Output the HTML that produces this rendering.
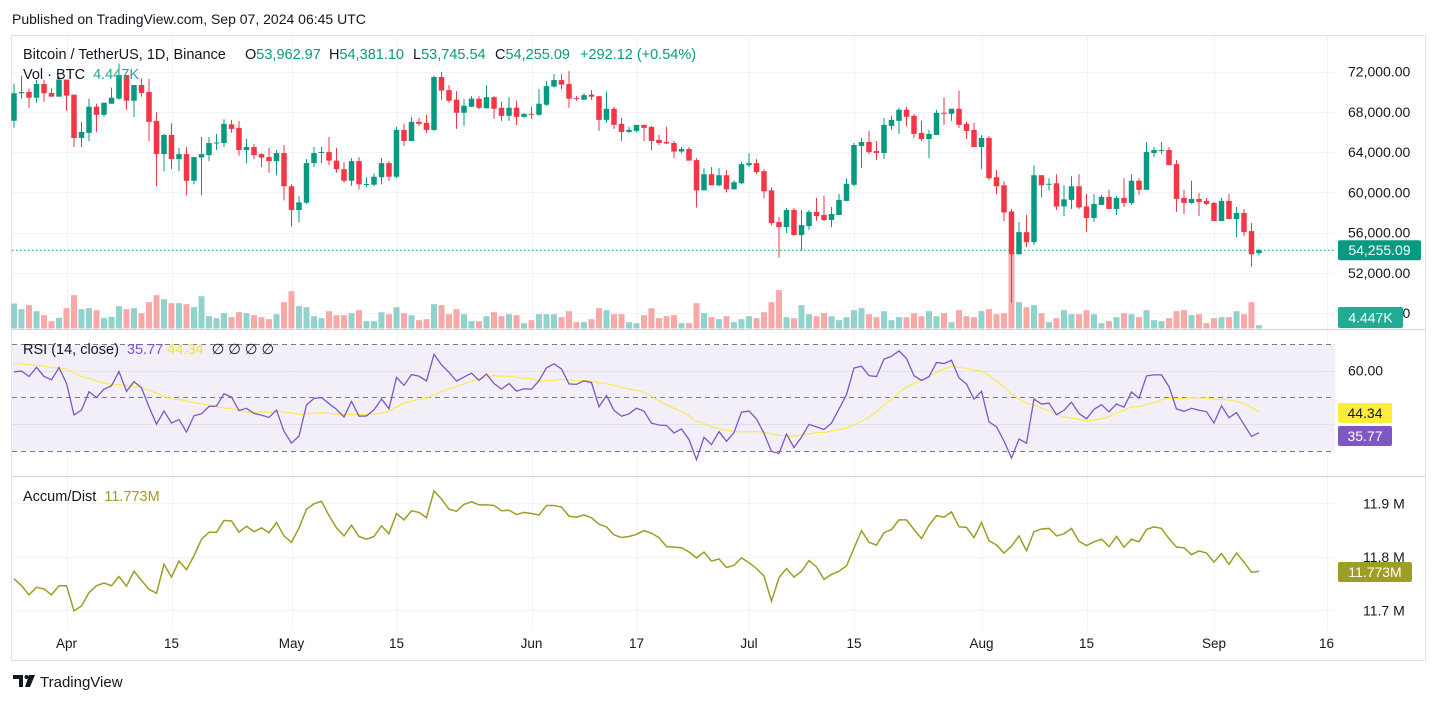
<!DOCTYPE html>
<html><head><meta charset="utf-8"><style>
html,body{margin:0;padding:0;background:#fff;width:1438px;height:703px;overflow:hidden;font-family:"Liberation Sans",sans-serif}
svg{display:block}
text{font-family:"Liberation Sans",sans-serif}
</style></head><body>
<svg id="chart" width="1438" height="703" viewBox="0 0 1438 703" xmlns="http://www.w3.org/2000/svg">
<text x="12" y="24" font-size="14" fill="#131722">Published on TradingView.com, Sep 07, 2024 06:45 UTC</text>
<rect x="11.5" y="35.5" width="1414" height="625" fill="none" stroke="#e0e3eb"/>
<rect x="12" y="344" width="1323" height="107" fill="#f2eff9"/>
<g id="grid"></g>
<g id="vol"></g>
<g id="candles"></g>
<g id="rsi"></g>
<g id="ad"></g>
<g id="axes"></g>
<text y="59" font-size="14.5" fill="#131722"><tspan x="23">Bitcoin / TetherUS, 1D, Binance</tspan><tspan x="245">O</tspan><tspan fill="#089981">53,962.97</tspan><tspan x="329">H</tspan><tspan fill="#089981">54,381.10</tspan><tspan x="413">L</tspan><tspan fill="#089981">53,745.54</tspan><tspan x="495">C</tspan><tspan fill="#089981">54,255.09</tspan><tspan x="580" fill="#089981">+292.12 (+0.54%)</tspan></text>
<text x="23" y="79" font-size="14.5" fill="#131722">Vol · BTC <tspan fill="#26a69a" dx="4">4.447K</tspan></text>
<text x="23" y="354" font-size="14.5" fill="#131722">RSI (14, close) <tspan fill="#7e57c2" dx="4">35.77</tspan> <tspan fill="#f5e13b">44.34</tspan> <tspan dx="4">∅  ∅  ∅  ∅</tspan></text>
<text x="23" y="501" font-size="14.5" fill="#131722">Accum/Dist <tspan fill="#9e9d24" dx="4">11.773M</tspan></text>
<g>
<path d="M13 675h10v12h-4v-8h-6z" fill="#131722"/>
<circle cx="26.5" cy="677" r="2" fill="#131722"/>
<path d="M29 675h6l-5 12h-5z" fill="#131722"/>
<text x="40" y="687" font-size="15" fill="#131722">TradingView</text>
</g>
</svg>
<script>
const opens=[67.11,69.84,69.96,69.4,70.76,69.87,69.5,71.2,69.7,65.4,
65.9,68.5,67.7,68.8,69.3,71.65,69.1,70.66,69.96,67.1,
63.8,65.7,63.3,63.8,61.15,63.45,63.7,64.85,64.9,66.75,
66.4,64.2,64.5,63.8,63.5,63.1,63.9,60.6,58.25,58.97,
62.9,63.9,64.0,63.15,62.3,61.15,63.1,60.76,60.76,61.5,
62.9,61.55,66.2,65.1,67.0,66.9,66.2,71.45,70.15,69.2,
67.9,68.5,69.3,68.35,69.45,68.4,67.6,68.4,67.5,67.8,
67.7,68.7,70.5,71.15,70.75,69.35,69.2,69.7,69.55,67.2,
68.3,66.8,66.0,66.1,66.7,66.5,65.2,65.0,64.9,64.05,
64.3,63.2,60.2,61.8,60.7,61.7,60.3,60.9,62.7,62.9,
62.1,60.2,57.05,56.55,58.25,55.75,56.65,58.05,57.75,57.25,
57.75,59.15,60.75,64.6,65.0,64.1,63.9,66.6,67.1,68.2,
67.6,65.9,65.3,65.7,67.9,67.8,68.3,66.8,66.2,64.5,
65.4,61.5,60.7,58.1,53.85,56.05,55.05,61.7,60.8,60.9,
58.6,59.25,60.6,58.6,57.45,58.75,59.55,58.35,59.45,58.95,
61.15,60.25,63.9,64.1,64.2,62.8,59.45,58.95,59.35,59.15,
58.95,57.15,59.15,57.35,57.95,56.15,53.963];
const highs=[70.8,71.55,70.33,71.16,71.16,70.33,71.5,71.2,69.7,67.0,
69.3,68.8,68.9,70.4,72.8,71.65,70.66,71.3,71.25,67.95,
65.8,66.85,64.4,64.5,63.5,65.5,65.5,65.8,67.25,67.2,
67.1,65.3,64.8,63.9,64.4,64.2,64.7,60.8,59.6,63.3,
64.5,64.5,65.5,64.4,63.0,63.4,63.5,61.5,61.9,63.4,
63.1,66.5,66.8,67.5,67.4,67.7,71.6,71.95,70.65,70.05,
69.25,69.55,69.55,70.65,69.55,69.0,69.45,69.1,67.85,68.5,
70.25,71.05,71.75,71.75,72.05,69.55,69.85,70.15,69.55,70.0,
68.5,67.4,66.5,66.7,66.7,66.6,65.7,66.5,65.1,64.5,
64.5,63.4,62.4,62.5,62.4,62.2,61.2,63.0,63.9,63.3,
62.3,60.5,57.55,58.45,58.45,58.25,58.25,59.45,59.65,58.55,
59.85,61.4,64.9,65.4,66.1,65.1,67.4,67.6,68.4,68.5,
67.8,67.1,66.2,68.2,69.4,68.3,70.1,67.0,66.9,65.7,
65.6,62.2,61.1,58.35,57.05,57.75,62.7,61.7,61.4,61.8,
60.7,61.6,61.8,59.85,59.85,59.75,60.25,59.65,61.4,61.8,
61.4,65.0,64.5,65.0,64.5,63.2,60.25,61.15,59.95,59.45,
59.05,59.45,59.85,58.55,58.35,56.95,54.381];
const lows=[66.42,69.3,68.4,68.9,69.0,69.5,69.5,68.1,64.5,64.5,
65.1,66.0,67.5,68.8,69.2,68.2,67.5,69.5,65.1,60.6,
62.1,62.3,62.1,59.7,60.8,59.7,63.1,64.2,64.5,65.9,
63.65,62.9,63.3,62.5,61.95,61.7,59.2,56.6,57.0,58.85,
62.5,62.9,62.7,61.95,60.95,60.65,60.3,60.55,60.6,60.8,
61.15,61.4,64.6,65.1,66.6,65.9,66.1,69.2,68.9,66.3,
66.6,68.5,68.25,68.35,67.3,67.1,67.1,66.7,67.4,67.3,
67.6,68.6,70.4,70.25,68.4,69.1,69.2,69.2,66.1,66.9,
66.3,65.1,65.9,65.95,65.1,64.15,64.7,64.8,63.4,63.9,
63.15,58.5,60.2,60.7,60.6,60.0,60.3,60.8,62.5,61.8,
59.4,56.75,53.5,55.95,55.75,54.2,56.25,57.15,57.15,56.55,
57.75,59.15,60.6,62.4,63.8,63.2,63.3,66.2,65.8,66.6,
65.4,65.1,63.4,65.7,66.7,67.1,66.4,65.3,64.5,62.3,
61.2,59.8,57.15,49.05,53.85,54.55,54.8,59.5,60.2,58.25,
57.65,58.35,58.35,56.05,57.05,58.75,58.35,57.75,58.55,58.75,
59.75,60.25,63.5,63.8,62.7,58.05,57.85,58.85,57.65,58.75,
57.15,57.15,57.35,55.55,55.65,52.6,53.746];
const closes=[69.84,69.96,69.4,70.76,69.84,69.5,71.2,69.6,65.4,66.0,
68.5,67.7,68.9,69.4,71.65,69.1,70.66,69.87,67.0,63.8,
65.7,63.3,63.8,61.15,63.5,63.8,64.9,64.95,66.8,66.3,
64.2,64.5,63.7,63.45,63.1,63.9,60.6,58.25,59.0,62.9,
63.9,64.0,63.15,62.3,61.15,63.1,60.8,60.83,61.55,62.9,
61.55,66.2,65.1,67.0,66.8,66.2,71.45,70.1,69.1,67.9,
68.6,69.3,68.4,69.45,68.3,67.6,68.4,67.5,67.8,67.75,
68.8,70.55,71.15,70.7,69.3,69.25,69.65,69.5,67.2,68.3,
66.7,66.0,66.2,66.7,66.4,65.1,64.9,64.85,64.05,64.3,
63.15,60.2,61.8,60.7,61.7,60.3,61.0,62.8,62.9,62.0,
60.1,56.95,56.55,58.25,55.75,56.75,58.05,57.65,57.25,57.85,
59.25,60.85,64.7,65.0,64.0,63.9,66.7,67.2,68.2,67.5,
65.8,65.3,65.8,67.9,67.8,68.3,66.7,66.1,64.5,65.4,
61.4,60.6,58.0,53.85,56.05,55.05,61.7,60.7,60.85,58.6,
59.3,60.6,58.5,57.45,58.85,59.55,58.35,59.45,58.95,61.15,
60.25,64.0,64.2,64.2,62.7,59.35,58.95,59.35,59.05,58.85,
57.15,59.15,57.35,57.95,56.05,53.85,54.255];
const volumes=[75,58,70,52,40,22,32,61,100,58,
61,55,32,35,67,58,61,46,79,100,
88,76,76,73,64,97,37,31,46,34,
49,46,40,34,28,43,79,112,67,64,
37,31,52,40,40,46,55,22,22,49,
43,64,46,40,25,28,73,70,43,58,
43,22,22,37,49,37,43,40,16,25,
43,43,43,34,52,19,19,28,61,55,
43,43,19,16,40,61,31,37,40,16,
16,76,46,34,28,37,19,28,37,31,
49,79,115,34,31,70,43,37,46,37,
25,34,55,61,43,34,52,25,34,34,
46,37,52,37,46,19,55,37,34,52,
58,43,46,223,79,64,70,46,19,31,
55,43,43,55,43,16,22,34,46,43,
34,55,25,22,31,52,55,40,43,16,
31,34,34,52,43,79,10];
const adValues=[11.759,11.746,11.729,11.743,11.740,11.729,11.746,11.746,11.699,11.708,
11.733,11.746,11.751,11.746,11.763,11.745,11.773,11.756,11.739,11.732,
11.786,11.762,11.792,11.776,11.802,11.833,11.846,11.846,11.868,11.867,
11.846,11.857,11.847,11.854,11.845,11.864,11.839,11.827,11.854,11.889,
11.899,11.904,11.877,11.854,11.839,11.859,11.838,11.833,11.838,11.858,
11.843,11.881,11.869,11.886,11.883,11.873,11.923,11.908,11.889,11.885,
11.898,11.903,11.897,11.897,11.896,11.886,11.887,11.879,11.883,11.881,
11.878,11.896,11.896,11.893,11.876,11.874,11.878,11.873,11.861,11.856,
11.841,11.836,11.838,11.842,11.849,11.844,11.836,11.819,11.818,11.817,
11.809,11.798,11.809,11.792,11.796,11.780,11.784,11.798,11.789,11.778,
11.764,11.717,11.761,11.778,11.762,11.773,11.793,11.781,11.758,11.767,
11.773,11.783,11.816,11.849,11.827,11.822,11.845,11.851,11.869,11.869,
11.851,11.834,11.859,11.877,11.874,11.884,11.856,11.855,11.836,11.864,
11.830,11.822,11.807,11.820,11.839,11.811,11.847,11.852,11.853,11.839,
11.843,11.853,11.829,11.821,11.828,11.833,11.819,11.838,11.818,11.833,
11.828,11.851,11.856,11.853,11.834,11.818,11.817,11.804,11.811,11.807,
11.790,11.806,11.786,11.807,11.790,11.771,11.773];
const priceTicks=[72,68,64,60,56,52,48];
const priceTickLabels=["72,000.00","68,000.00","64,000.00","60,000.00","56,000.00","52,000.00","48,000.00"];
const rsiTicks=[60,40];
const adTicks=[11.9,11.8,11.7];
const adTickLabels=["11.9 M","11.8 M","11.7 M"];
const dateTickIdx=[7,21,37,51,69,83,98,112,129,143,160,175];
const dateTickLabels=["Apr","15","May","15","Jun","17","Jul","15","Aug","15","Sep","16"];
const rsiSeedGain=0.78, rsiSeedLoss=0.53, rsiMaSeed=63;

const NS="http://www.w3.org/2000/svg";
function mk(tag,attrs,parent){const e=document.createElementNS(NS,tag);for(const k in attrs)e.setAttribute(k,attrs[k]);parent.appendChild(e);return e;}
const X=i=>14+7.5*i;
const PY=p=>71.5+(72-p)*10.07;
const VY=v=>328.5-v/3;
const RY=r=>397.3-(r-50)*2.67;
const AY=a=>503.3+(11.9-a)*535;
const grid=document.getElementById('grid'),axes=document.getElementById('axes');

dateTickIdx.forEach((di,k)=>{
  const x=Math.round(X(di))+0.5;
  const g=mk('line',{x1:x,x2:x,y1:36,y2:630,stroke:'#f0f3fa'},grid);
  
  
  const t=mk('text',{x:X(di),y:648,'font-size':13.5,'text-anchor':'middle',fill:'#131722'},axes);
  t.textContent=dateTickLabels[k];
  
  
});
priceTicks.forEach((p,k)=>{
  const y=Math.round(PY(p))+0.5;
  const g=mk('line',{x1:12,x2:1335,y1:y,y2:y,stroke:'#f0f3fa'},grid);
  
  
  const t=mk('text',{x:1348,y:PY(p)+5,'font-size':14,fill:'#131722'},axes);
  t.textContent=priceTickLabels[k];
  
  
});
rsiTicks.forEach(r=>{
  const y=Math.round(RY(r))+0.5;
  const g=mk('line',{x1:12,x2:1335,y1:y,y2:y,stroke:'#e4e1ee'},grid);
  
  
});
const t60=mk('text',{x:1348,y:RY(60)+5,'font-size':14,fill:'#131722'},axes);
t60.textContent='60.00';


[70,50,30].forEach(r=>{
  const y=Math.round(RY(r))+0.5;
  const g=mk('line',{x1:12,x2:1335,y1:y,y2:y,stroke:'#787b86','stroke-dasharray':'5,4'},grid);
  
  
});
adTicks.forEach((a,k)=>{
  const y=Math.round(AY(a))+0.5;
  const g=mk('line',{x1:12,x2:1335,y1:y,y2:y,stroke:'#f0f3fa'},grid);
  
  
  const t=mk('text',{x:1363,y:AY(a)+5,'font-size':14,fill:'#131722'},axes);
  t.textContent=adTickLabels[k];
  
  
});
[329.5,476.5].forEach(y=>{
  const g=mk('line',{x1:12,x2:1425,y1:y,y2:y,stroke:'#d1d4dc'},grid);
  
  
});

const vol=document.getElementById('vol');
volumes.forEach((v,i)=>{
  const up=closes[i]>=opens[i];
  const r=mk('rect',{x:X(i)-3,y:VY(v),width:6,height:328.5-VY(v),fill:up?'#92d2cc':'#f7a9a7'},vol);
  
  
});
const cg=document.getElementById('candles');
const last=closes[closes.length-1];
const pl=mk('line',{x1:12,x2:1335,y1:PY(last),y2:PY(last),stroke:'#089981','stroke-dasharray':'1.5,2.5'},cg);


opens.forEach((o,i)=>{
  const c=closes[i],up=c>=o,col=up?'#089981':'#f23645';
  const x=X(i);
  const w=mk('line',{x1:x,x2:x,y1:PY(highs[i]),y2:PY(lows[i]),stroke:col,'stroke-width':1},cg);
  
  
  const top=PY(Math.max(o,c)),bot=PY(Math.min(o,c));
  const b=mk('rect',{x:x-2.75,y:top,width:5.5,height:Math.max(1,bot-top),fill:col},cg);
  
  
});
const rsi=[];let ag=rsiSeedGain,al=rsiSeedLoss;
rsi.push(100-100/(1+ag/al));
for(let i=1;i<closes.length;i++){const d=closes[i]-closes[i-1];ag=(ag*13+Math.max(d,0))/14;al=(al*13+Math.max(-d,0))/14;rsi.push(100-100/(1+ag/al));}
const rsiMa=rsi.map((r,i)=>{let s=0;for(let k=i-13;k<=i;k++)s+=k<0?rsiMaSeed:rsi[k];return s/14;});
const rg=document.getElementById('rsi');
const ym=mk('polyline',{points:rsiMa.map((r,i)=>X(i)+','+RY(r)).join(' '),fill:'none',stroke:'#ffe94d','stroke-width':1.2},rg);


const rl=mk('polyline',{points:rsi.map((r,i)=>X(i)+','+RY(r)).join(' '),fill:'none',stroke:'#7e57c2','stroke-width':1.3},rg);


const ag2=document.getElementById('ad');
const al2=mk('polyline',{points:adValues.map((a,i)=>X(i)+','+AY(a)).join(' '),fill:'none',stroke:'#9e9d24','stroke-width':1.5},ag2);



function box(name,x,y,w,h,fill,txt,tc){
  const g=mk('g',{},axes);
  
  
  mk('rect',{x:x,y:y,width:w,height:h,rx:2,fill:fill},g);
  const t=mk('text',{x:x+w/2,y:y+h/2+5,'font-size':14,'text-anchor':'middle',fill:tc},g);
  t.textContent=txt;
}
box('last-price-label',1338,PY(last)-10,83,20,'#089981','54,255.09','#fff');
box('volume-label',1338,307,65,21,'#22ab94','4.447K','#fff');
box('rsi-ma-label',1338,403,54,20,'#ffeb3b','44.34','#131722');
box('rsi-label',1338,426,54,20,'#7e57c2','35.77','#fff');
box('ad-label',1338,562,74,20,'#9e9d24','11.773M','#fff');
</script>
</body></html>
